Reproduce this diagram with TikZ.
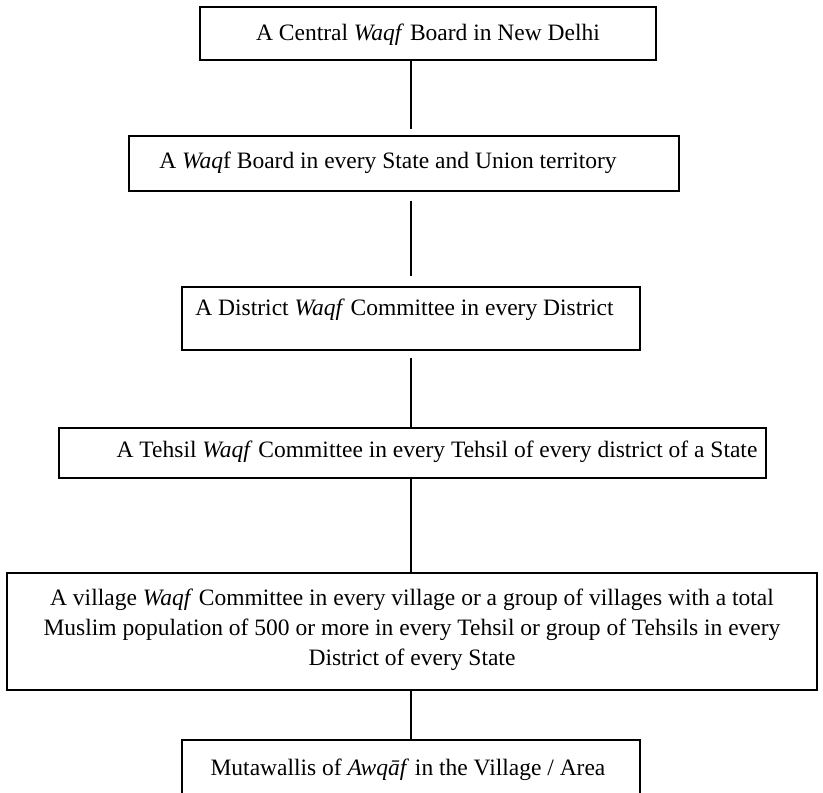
\documentclass[tikz,border=0pt]{standalone}
\usepackage{fontspec}
\setmainfont{Liberation Serif}
\begin{document}
\begin{tikzpicture}[x=1pt,y=-1pt,
  box/.style={draw, line width=1.7pt, inner sep=0pt},
  frame/.style={inner sep=0pt},
  label/.style={inner sep=0pt, font=\fontsize{23.5}{30}\selectfont, align=center},
  link/.style={line width=1.7pt}]
\useasboundingbox (0,0) rectangle (823,793);
% boxes
\node[box, minimum width=456pt, minimum height=53pt] (b1) at (428,33.5) {};
\node[box, minimum width=550pt, minimum height=55pt] (b2) at (404,163.5) {};
\node[box, minimum width=458pt, minimum height=63pt] (b3) at (411,318.5) {};
\node[box, minimum width=707pt, minimum height=50pt] (b4) at (412.5,453) {};
\node[box, minimum width=810pt, minimum height=117pt] (b5) at (412,631.5) {};
\node[frame, minimum width=458pt, minimum height=53pt] (b6) at (411,766.5) {};
\draw[link] (b6.south west) -- (b6.north west) -- (b6.north east) -- (b6.south east);
% texts
\node[label] (t1) at (428,35) {A Central \textit{Waqf} Board in New Delhi};
\node[label] (t2) at (388,163) {A \textit{Waq}f Board in every State and Union territory};
\node[label] (t3) at (404.5,310) {A District \textit{Waqf} Committee in every District};
\node[label] (t4) at (437,452) {A Tehsil \textit{Waqf} Committee in every Tehsil of every district of a State};
\node[label] (t5) at (412,630) {A village \textit{Waqf} Committee in every village or a group of villages with a total\\Muslim population of 500 or more in every Tehsil or group of Tehsils in every\\District of every State};
\node[label] (t6) at (408,770) {Mutawallis of \textit{Awqāf} in the Village / Area};
% connectors
\coordinate (ax) at (411,0);
\draw[link, shorten >=6pt] (b1.south -| ax) -- (b2.north -| ax);
\draw[link, shorten <=9pt, shorten >=10pt] (b2.south -| ax) -- (b3.north -| ax);
\draw[link, shorten <=7pt] (b3.south -| ax) -- (b4.north -| ax);
\draw[link] (b4.south -| ax) -- (b5.north -| ax);
\draw[link] (b5.south -| ax) -- (b6.north -| ax);
\end{tikzpicture}
\end{document}
